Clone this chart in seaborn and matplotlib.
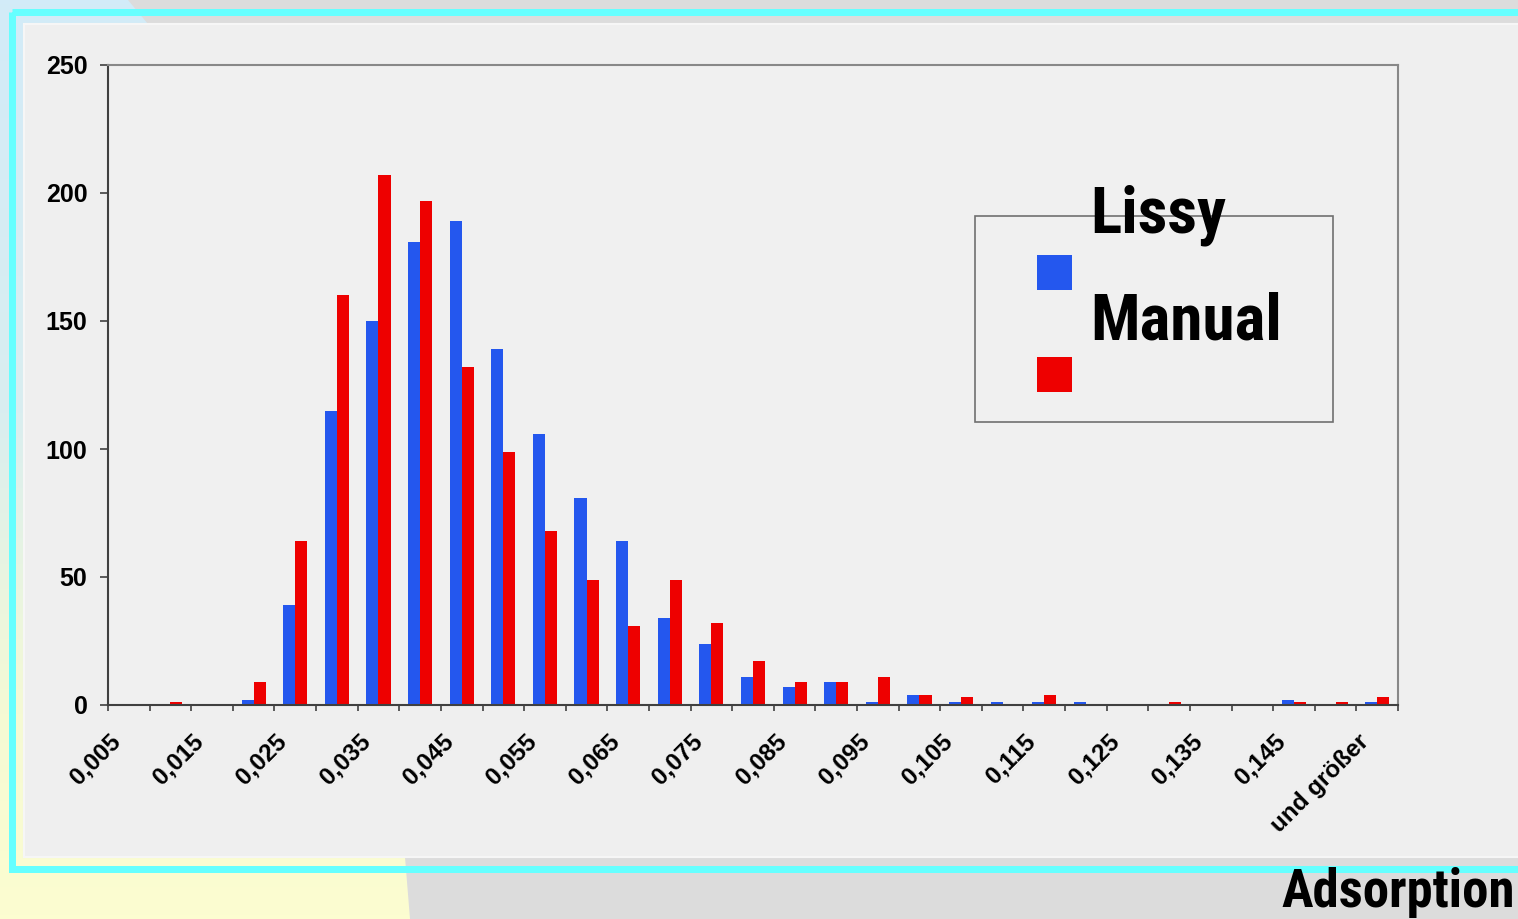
import numpy as np
import pandas as pd
import seaborn as sns
import matplotlib.pyplot as plt
from matplotlib import font_manager
from matplotlib.patches import Rectangle, Polygon
from matplotlib.colors import LinearSegmentedColormap
from matplotlib.transforms import ScaledTranslation

bins = ["0,005", "0,01", "0,015", "0,02", "0,025", "0,03", "0,035", "0,04",
        "0,045", "0,05", "0,055", "0,06", "0,065", "0,07", "0,075", "0,08",
        "0,085", "0,09", "0,095", "0,1", "0,105", "0,11", "0,115", "0,12",
        "0,125", "0,13", "0,135", "0,14", "0,145", "0,15", "und größer"]
lissy = [0, 0, 0, 2, 39, 115, 150, 181, 189, 139, 106, 81, 64, 34, 24, 11,
         7, 9, 1, 4, 1, 1, 1, 1, 0, 0, 0, 0, 2, 0, 1]
manual = [0, 1, 0, 9, 64, 160, 207, 197, 132, 99, 68, 49, 31, 49, 32, 17,
          9, 9, 11, 4, 3, 0, 4, 0, 0, 1, 0, 0, 1, 1, 3]
series = ["Lissy", "Manual"]
colors = ["#2457ee", "#ee0000"]

sns.set_style("ticks")
plt.rcParams["font.family"] = ["Liberation Sans", "DejaVu Sans"]
plt.rcParams["text.color"] = "black"
plt.rcParams["xtick.labelcolor"] = "black"
plt.rcParams["ytick.labelcolor"] = "black"


def heavy(f):
    w = f.weight
    if isinstance(w, str):
        w = font_manager.weight_dict.get(w, 400)
    return w >= 600


# the slide uses a condensed bold face; take one that has a bold cut
cond = {f.name for f in font_manager.fontManager.ttflist
        if ("Narrow" in f.name or "Condensed" in f.name) and heavy(f)}
prefer = ["Liberation Sans Narrow", "Arial Narrow", "Roboto Condensed",
          "Noto Sans Condensed", "Open Sans Condensed"]
cond = [n for n in prefer if n in cond] + sorted(cond - set(prefer))
narrow = cond[:1] + ["Liberation Sans", "DejaVu Sans"]
big = 47 if cond else 40
small = 38 if cond else 32

W, H = 1518, 919
fig = plt.figure(figsize=(W / 100, H / 100), dpi=100)


def fx(x):
    return x / W


def fy(y):
    return 1 - y / H


# slide background
bg = fig.add_axes([0, 0, 1, 1], zorder=-10)
bg.set_xlim(0, W)
bg.set_ylim(H, 0)
bg.axis("off")
cmap = LinearSegmentedColormap.from_list(
    "bg", [(0, "#d2ebf8"), (0.45, "#d9eef0"), (0.78, "#f5fad4"), (1, "#fcfdd0")])
bg.imshow(np.linspace(0, 1, 256)[:, None], cmap=cmap, extent=[0, W, H, 0], aspect="auto")
bg.add_patch(Polygon([(128, 0), (W, 0), (W, 24), (148, 24)], color="#dcdcdc", lw=0))
bg.add_patch(Polygon([(405, 857), (W, 857), (W, H), (410, H)], color="#dcdcdc", lw=0))
bg.add_patch(Rectangle((11.5, 11.5), W + 20, 869 - 11.5, fill=False, ec="#66ffff", lw=7 * 0.72))
bg.add_patch(Rectangle((24, 24), W, 857 - 24, fc="#efefef", ec="#f6f6f6", lw=1.5))

# chart
ax = fig.add_axes([fx(108), fy(705), fx(1398) - fx(108), fy(65) - fy(705)])
ax.set_facecolor("#f0f0f0")

df = pd.DataFrame({"bin": bins * 2,
                   "count": lissy + manual,
                   "series": [series[0]] * len(bins) + [series[1]] * len(bins)})
sns.barplot(data=df, x="bin", y="count", hue="series", order=bins, palette=colors,
            width=0.58, saturation=1, linewidth=0, legend=False, ax=ax)

ax.set_xlim(-0.5, len(bins) - 0.5)
ax.set_ylim(0, 250)
ax.set_yticks(range(0, 251, 50))
ax.set_xticks(range(0, len(bins), 2))
ax.set_xticklabels(bins[::2])
ax.set_xticks(np.arange(-0.5, len(bins), 1), minor=True)
ax.set_xlabel("")
ax.set_ylabel("")

ax.tick_params(axis="x", which="major", length=0, pad=23.8, labelsize=17.5)
ax.tick_params(axis="x", which="minor", length=4.5, width=1.2, color="#404040")
ax.tick_params(axis="y", length=5.8, width=1.2, pad=9, color="#404040", labelsize=18)
for lab in ax.get_yticklabels():
    lab.set_fontweight("bold")
for lab in ax.get_xticklabels():
    lab.set_fontweight("bold")
    lab.set_rotation(45)
    lab.set_ha("right")
    lab.set_va("center")
    lab.set_rotation_mode("anchor")
    lab.set_transform(lab.get_transform() + ScaledTranslation(-0.12, 0, fig.dpi_scale_trans))

for side in ["left", "bottom"]:
    ax.spines[side].set_color("#404040")
    ax.spines[side].set_linewidth(1.5)
for side in ["top", "right"]:
    ax.spines[side].set_visible(True)
    ax.spines[side].set_color("#888888")
    ax.spines[side].set_linewidth(1.5)

# legend box drawn like the original (labels sit above their keys)
fig.add_artist(Rectangle((fx(975), fy(422)), fx(1333) - fx(975), fy(216) - fy(422),
                         transform=fig.transFigure, fill=False, ec="#707070", lw=1.2))
for top, name, col, base in [(255, series[0], colors[0], 232), (357, series[1], colors[1], 340)]:
    fig.add_artist(Rectangle((fx(1037), fy(top + 35)), 35 / W, 35 / H,
                             transform=fig.transFigure, fc=col, ec="none"))
    fig.text(fx(1090), fy(base), name, va="baseline", ha="left", fontsize=big,
             fontweight="bold", family=narrow, color="black")

fig.text(fx(1515), fy(907), "Adsorption", va="baseline", ha="right", fontsize=small,
         fontweight="bold", family=narrow, color="black")

fig.savefig("out.png", dpi=100)
